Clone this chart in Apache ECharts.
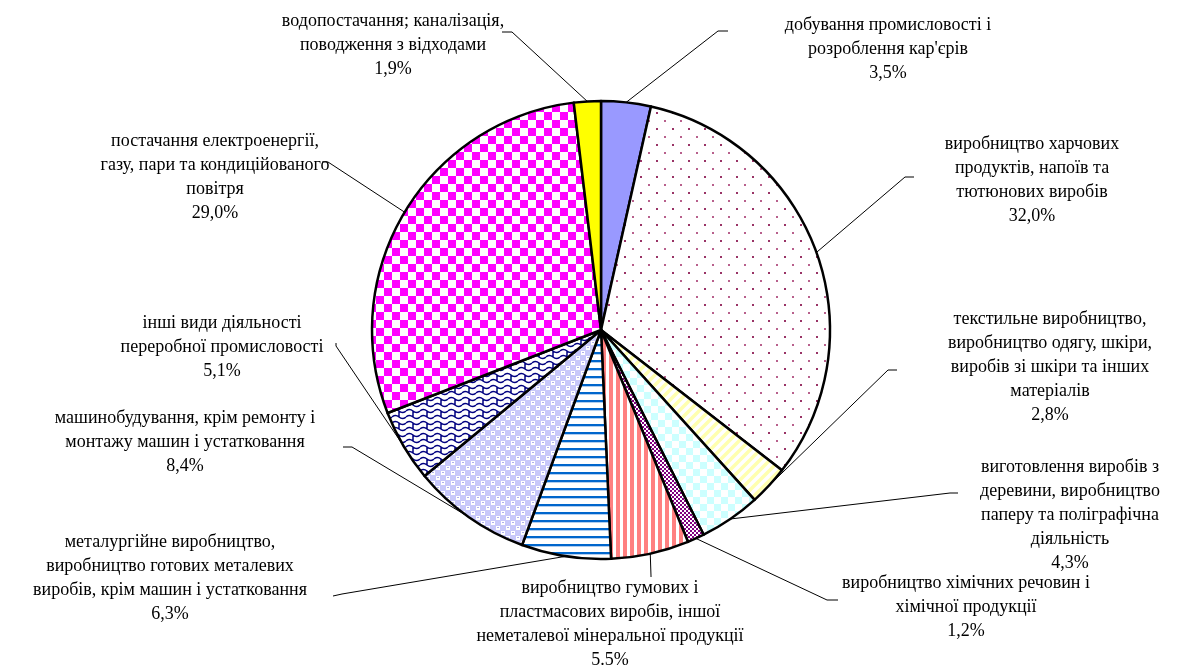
<!DOCTYPE html>
<html>
<head>
<meta charset="utf-8">
<script src="https://cdn.jsdelivr.net/npm/echarts/dist/echarts.min.js"></script>
<style>
  html, body { margin: 0; padding: 0; background: #fff; }
  #chart { width: 1185px; height: 667px; }
</style>
</head>
<body>
<div id="chart"></div>
<script>
// categories, clockwise from 12 o'clock
const categories = [
  'добування промисловості і\nрозроблення кар\'єрів',
  'виробництво харчових\nпродуктів, напоїв та\nтютюнових виробів',
  'текстильне виробництво,\nвиробництво одягу, шкіри,\nвиробів зі шкіри та інших\nматеріалів',
  'виготовлення виробів з\nдеревини, виробництво\nпаперу та поліграфічна\nдіяльність',
  'виробництво хімічних речовин і\nхімічної продукції',
  'виробництво гумових і\nпластмасових виробів, іншої\nнеметалевої мінеральної продукції',
  'металургійне виробництво,\nвиробництво готових металевих\nвиробів, крім машин і устатковання',
  'машинобудування, крім ремонту і\nмонтажу машин і устатковання',
  'інші види діяльності\nпереробної промисловості',
  'постачання електроенергії,\nгазу, пари та кондиційованого\nповітря',
  'водопостачання; каналізація,\nповодження з відходами'
];
const shares = [3.5, 32.0, 2.8, 4.3, 1.2, 5.5, 6.3, 8.4, 5.1, 29.0, 1.9];
const shareLabels = ['3,5%', '32,0%', '2,8%', '4,3%', '1,2%', '5.5%', '6,3%', '8,4%', '5,1%', '29,0%', '1,9%'];

// label block centres and leader line ends (layout only)
const labelPos = [
  [888, 49], [1032, 180], [1050, 367], [1070, 515], [966, 607], [610, 624],
  [170, 578], [185, 442], [222, 347], [215, 177], [393, 45]
];
const lineEnds = [
  [[718, 31], [728, 31]],
  [[905, 177], [914, 177]],
  [[888, 370], [897, 370]],
  [[950, 493], [958, 493]],
  [[827, 600], [838, 600]],
  [[651, 576], [651, 577]],
  [[342, 594], [333, 596]],
  [[352, 447], [343, 447]],
  [[336, 346], [336, 343]],
  [[328, 162], [322, 162]],
  [[512, 32], [502, 32]]
];

function tile(w, h, draw) {
  const c = document.createElement('canvas');
  c.width = w; c.height = h;
  const ctx = c.getContext('2d');
  ctx.fillStyle = '#ffffff';
  ctx.fillRect(0, 0, w, h);
  draw(ctx);
  return { image: c, repeat: 'repeat' };
}

const fills = [
  '#9999ff',
  tile(16, 16, ctx => {
    ctx.fillStyle = '#993366'; ctx.fillRect(0, 0, 2, 2);
    ctx.fillStyle = '#b8608c'; ctx.fillRect(8, 8, 2, 2);
  }),
  tile(10, 10, ctx => {
    ctx.strokeStyle = '#ffffb0'; ctx.lineWidth = 3.5;
    ctx.beginPath();
    ctx.moveTo(-3, 13); ctx.lineTo(13, -3);
    ctx.moveTo(-3, 3); ctx.lineTo(3, -3);
    ctx.moveTo(7, 13); ctx.lineTo(13, 7);
    ctx.stroke();
  }),
  tile(14, 14, ctx => {
    ctx.fillStyle = '#ccffff';
    ctx.fillRect(0, 0, 7, 7); ctx.fillRect(7, 7, 7, 7);
  }),
  tile(4, 4, ctx => {
    ctx.fillStyle = '#800080';
    ctx.fillRect(0, 0, 2, 2); ctx.fillRect(2, 2, 2, 2);
  }),
  tile(7, 7, ctx => {
    ctx.fillStyle = '#ff8080'; ctx.fillRect(0, 0, 4, 7);
  }),
  tile(8, 8, ctx => {
    ctx.fillStyle = '#0066cc'; ctx.fillRect(0, 0, 8, 2);
    ctx.fillStyle = '#b0cdef'; ctx.fillRect(0, 2, 8, 1);
  }),
  tile(10, 10, ctx => {
    ctx.fillStyle = '#c8c8fa'; ctx.fillRect(0, 0, 10, 10);
    ctx.fillStyle = '#ffffff';
    ctx.fillRect(1, 1, 4, 4); ctx.fillRect(6, 6, 4, 4);
    ctx.fillStyle = '#b0b0ec';
    ctx.fillRect(2, 2, 2, 1); ctx.fillRect(7, 7, 2, 1);
  }),
  tile(14, 12, ctx => {
    ctx.strokeStyle = '#000080'; ctx.lineWidth = 1.5;
    ctx.beginPath();
    ctx.moveTo(0, 3); ctx.quadraticCurveTo(3.5, 0, 7, 3); ctx.quadraticCurveTo(10.5, 6, 14, 3);
    ctx.moveTo(0, 9); ctx.quadraticCurveTo(3.5, 6, 7, 9); ctx.quadraticCurveTo(10.5, 12, 14, 9);
    ctx.moveTo(7, 3); ctx.lineTo(7, 9);
    ctx.stroke();
  }),
  tile(16, 16, ctx => {
    ctx.fillStyle = '#ff00ff';
    ctx.fillRect(0, 0, 8, 8); ctx.fillRect(8, 8, 8, 8);
  }),
  '#ffff00'
];

const chart = echarts.init(document.getElementById('chart'));
const option = {
  backgroundColor: '#ffffff',
  animation: false,
  series: [
    {
      type: 'pie',
      center: [601, 330],
      radius: 229,
      startAngle: 90,
      clockwise: true,
      avoidLabelOverlap: false,
      itemStyle: {
        borderColor: '#000000',
        borderWidth: 2.5
      },
      label: {
        show: true,
        position: 'outside',
        color: '#000000',
        fontFamily: 'Liberation Serif',
        fontSize: 18,
        lineHeight: 24,
        align: 'center',
        formatter: p => p.name + '\n' + shareLabels[p.dataIndex]
      },
      labelLine: {
        show: true,
        lineStyle: { color: '#000000', width: 1 }
      },
      labelLayout: params => {
        const i = params.dataIndex;
        const start = params.labelLinePoints ? params.labelLinePoints[0] : lineEnds[i][0];
        return {
          x: labelPos[i][0],
          y: labelPos[i][1],
          align: 'center',
          verticalAlign: 'middle',
          labelLinePoints: [start, lineEnds[i][0], lineEnds[i][1]]
        };
      },
      emphasis: { disabled: true },
      data: categories.map((name, i) => ({
        name: name,
        value: shares[i],
        itemStyle: { color: fills[i] }
      }))
    }
  ]
};
chart.setOption(option);
</script>
</body>
</html>
